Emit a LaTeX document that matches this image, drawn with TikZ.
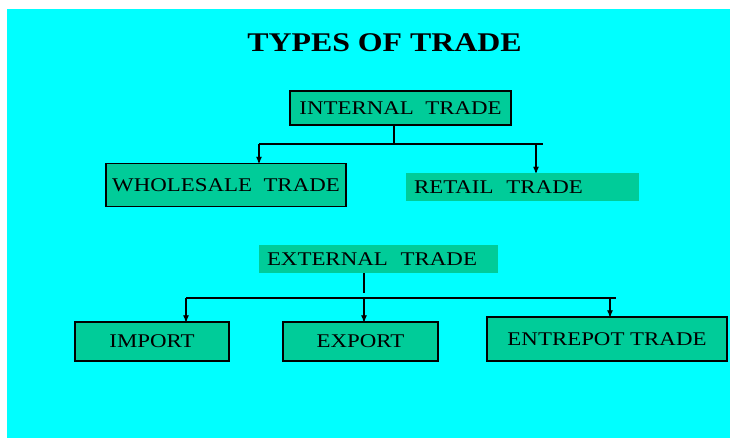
\documentclass[tikz,border=0pt]{standalone}
\usepackage{fontspec}
\setmainfont{Liberation Serif}[FakeStretch=1.18]
\usetikzlibrary{arrows}
\definecolor{slidebg}{RGB}{0,255,255}
\definecolor{boxfill}{RGB}{0,204,153}
\tikzset{
  tradebox/.style={draw=black, line width=1.2pt, fill=boxfill, inner sep=0pt,
    font=\fontsize{19.4}{22}\selectfont},
  tradeplain/.style={fill=boxfill, inner xsep=8pt, inner ysep=0pt, align=left,
    font=\fontsize{19.4}{22}\selectfont},
  link/.style={black, line width=1.2pt}
}
\begin{document}
\begin{tikzpicture}[x=1pt, y=-1pt]
\useasboundingbox (0,0) rectangle (730,438);
\fill[white] (0,0) rectangle (730,438);
\fill[slidebg] (7,9) rectangle (730,438);
\node[inner sep=0pt, font=\bfseries\fontsize{27}{30}\selectfont] (title) at (384.5,42.5) {TYPES OF TRADE};
% internal trade
\node[tradebox, minimum width=221pt, minimum height=34pt] (internal) at (400.5,108) {INTERNAL~~TRADE};
\node[tradebox, minimum width=240pt, minimum height=43pt] (wholesale) at (226,185) {WHOLESALE~~TRADE};
\node[tradeplain, text width=217pt, minimum height=28pt] (retail) at (522.5,187) {RETAIL~~TRADE};
\coordinate (ij) at (394,144);
\coordinate (iw) at (259,144);
\coordinate (ir) at (536,144);
\coordinate (iend) at (543,144);
\draw[link] (ij |- internal.south) -- (ij);
\draw[link] (iw) -- (iend);
\draw[link,->,>=stealth'] (iw) -- (iw |- wholesale.north);
\draw[link,->,>=stealth'] (ir) -- (ir |- retail.north);
% external trade
\node[tradeplain, text width=223pt, minimum height=28pt] (external) at (378.5,259) {EXTERNAL~~TRADE};
\node[tradebox, minimum width=154pt, minimum height=39pt] (import) at (152,341.5) {IMPORT};
\node[tradebox, minimum width=155pt, minimum height=39pt] (export) at (360.5,341.5) {EXPORT};
\node[tradebox, minimum width=240pt, minimum height=44pt] (entrepot) at (607,339) {ENTREPOT TRADE};
\coordinate (ej) at (364,298);
\coordinate (ei) at (186,298);
\coordinate (ee) at (610,298);
\coordinate (eend) at (616,298);
\draw[link] (ej |- external.south) -- ([yshift=5pt]ej);
\draw[link] (ei) -- (eend);
\draw[link,->,>=stealth'] (ei) -- (ei |- import.north);
\draw[link,->,>=stealth'] (ej) -- (ej |- export.north);
\draw[link,->,>=stealth'] (ee) -- (ee |- entrepot.north);
\end{tikzpicture}
\end{document}
